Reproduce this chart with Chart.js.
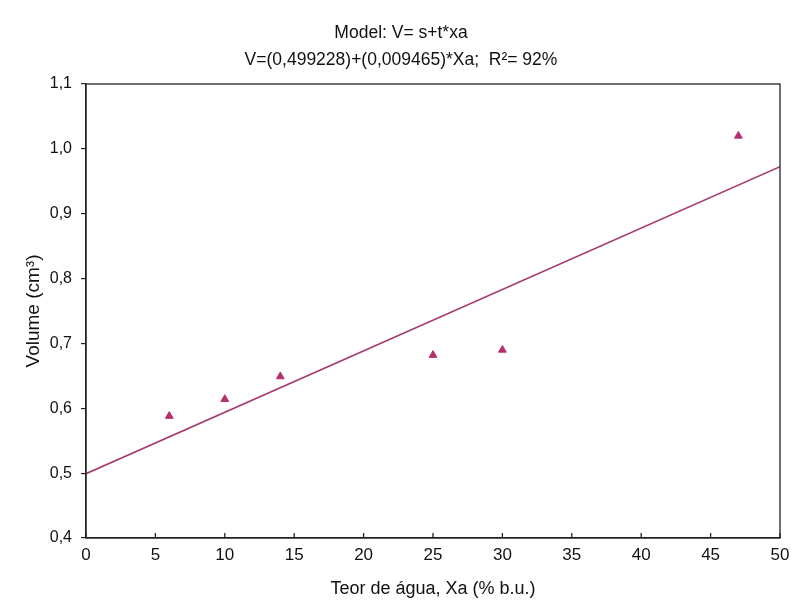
<!DOCTYPE html>
<html>
<head>
<meta charset="utf-8">
<script src="https://cdn.jsdelivr.net/npm/chart.js@4.4.0/dist/chart.umd.min.js"></script>
<style>
    html, body { margin: 0; padding: 0; background: #ffffff; }
    #wrap { width: 792px; height: 603px; }
</style>
</head>
<body>
<div id="wrap"><canvas id="chart" width="792" height="603"></canvas></div>
<script>
// Observed values (water content vs volume)
const teorAgua = [6, 10, 14, 25, 30, 47];
const volume = [0.588, 0.614, 0.649, 0.682, 0.690, 1.020];

// Fitted line end points
const fitX = [0, 50];
const fitY = [0.4992, 0.9725];

const titleLines = ['Model: V= s+t*xa', 'V=(0,499228)+(0,009465)*Xa;  R\u00B2= 92%'];
const xTicks = [0, 5, 10, 15, 20, 25, 30, 35, 40, 45, 50];
const yTicks = [0.4, 0.5, 0.6, 0.7, 0.8, 0.9, 1.0, 1.1];

const mark = '#b3306d';
const lineColor = '#a53a72';

// Frame around the plot and small inward ticks on the x axis
const framePlugin = {
    id: 'frame',
    afterDraw(chart) {
        const { ctx, chartArea: a, scales } = chart;
        ctx.save();
        ctx.strokeStyle = '#222';
        ctx.lineWidth = 1.3;
        ctx.strokeRect(a.left, a.top, a.right - a.left, a.bottom - a.top);
        ctx.beginPath();
        scales.x.ticks.forEach((t, i) => {
            const px = scales.x.getPixelForTick(i);
            ctx.moveTo(px, a.bottom);
            ctx.lineTo(px, a.bottom - 5);
        });
        ctx.stroke();
        ctx.restore();
    }
};

new Chart(document.getElementById('chart'), {
    type: 'scatter',
    data: {
        datasets: [
            {
                label: 'fit',
                type: 'line',
                data: fitX.map((x, i) => ({ x: x, y: fitY[i] })),
                borderColor: lineColor,
                borderWidth: 1.6,
                pointRadius: 0,
                fill: false
            },
            {
                label: 'Volume',
                data: teorAgua.map((x, i) => ({ x: x, y: volume[i] })),
                pointStyle: 'triangle',
                pointRadius: 4.5,
                backgroundColor: mark,
                borderColor: mark,
                borderWidth: 1
            }
        ]
    },
    options: {
        responsive: false,
        animation: false,
        layout: { padding: { left: 22, right: 12, top: 0, bottom: 3 } },
        plugins: {
            legend: { display: false },
            tooltip: { enabled: false },
            title: {
                display: true,
                text: titleLines,
                color: '#111',
                font: { family: "'Liberation Sans', Arial, sans-serif", size: 17.5, weight: 'normal', lineHeight: 27 / 17.5 },
                padding: { top: 20, bottom: 10 }
            }
        },
        scales: {
            x: {
                type: 'linear',
                min: 0,
                max: 50,
                afterBuildTicks: s => { s.ticks = xTicks.map(v => ({ value: v })); },
                ticks: {
                    color: '#111',
                    padding: 7,
                    font: { family: "'Liberation Sans Narrow', 'Liberation Sans', sans-serif", size: 17 }
                },
                grid: { display: false, drawTicks: false },
                border: { display: true, color: '#222', width: 1.3 },
                title: {
                    display: true,
                    text: 'Teor de água, Xa (% b.u.)',
                    color: '#111',
                    padding: 0,
                    font: { family: "'Liberation Sans Narrow', 'Liberation Sans', sans-serif", size: 18 }
                },
                afterFit: s => {
                    s.height = 603 - 538 - 3;
                    s.paddingRight = 0;
                    s.paddingLeft = 0;
                }
            },
            y: {
                type: 'linear',
                min: 0.4,
                max: 1.1,
                afterBuildTicks: s => { s.ticks = yTicks.map(v => ({ value: v })); },
                ticks: {
                    color: '#111',
                    padding: 9,
                    font: { family: "'Liberation Sans', Arial, sans-serif", size: 16 },
                    callback: v => v.toFixed(1).replace('.', ',')
                },
                grid: { drawOnChartArea: false, drawTicks: true, tickLength: 5, color: '#222', lineWidth: 1.2 },
                border: { display: true, color: '#222', width: 1.3 },
                title: {
                    display: true,
                    text: 'Volume (cm\u00B3)',
                    color: '#111',
                    padding: 0,
                    font: { family: "'Liberation Sans', Arial, sans-serif", size: 19 }
                },
                afterFit: s => { s.width = 86 - 22; }
            }
        }
    },
    plugins: [framePlugin]
});
</script>
</body>
</html>
